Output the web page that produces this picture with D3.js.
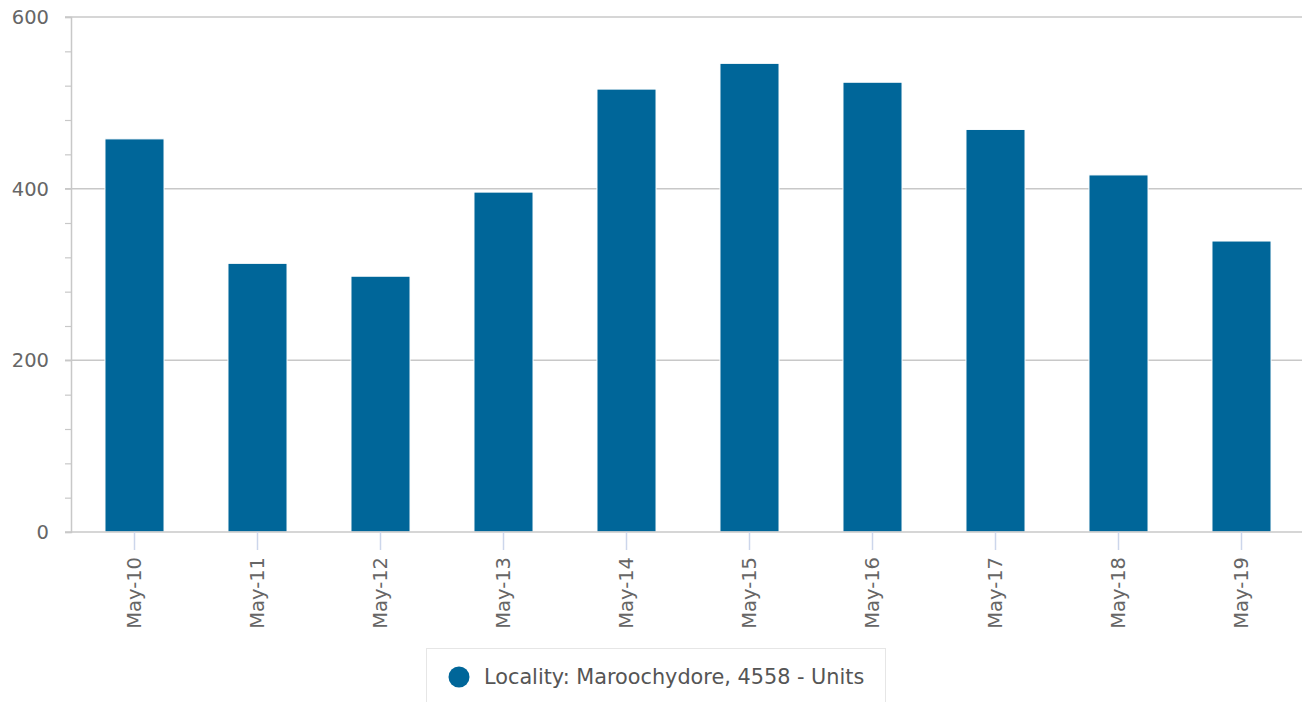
<!DOCTYPE html>
<html>
<head>
<meta charset="utf-8">
<script src="https://cdn.jsdelivr.net/npm/d3@7"></script>
<style>
  body { margin: 0; background: #fff; }
  svg { display: block; font-family: "DejaVu Sans", sans-serif; }
</style>
</head>
<body>
<div id="chart"></div>
<script>
// Maroochydore units
const categories = ["May-10", "May-11", "May-12", "May-13", "May-14", "May-15", "May-16", "May-17", "May-18", "May-19"];
const values = [458, 313, 298, 396, 516, 546, 524, 469, 416, 339];
const yTickLabels = [0, 200, 400, 600];
const seriesName = "Locality: Maroochydore, 4558 - Units";

const W = 1302, H = 702;
const margin = { top: 17, right: 0, bottom: 170, left: 71 };
const color = "#006699";

const svg = d3.select("#chart").append("svg")
    .attr("width", W)
    .attr("height", H);

const x = d3.scaleBand()
    .domain(categories)
    .range([margin.left + 2, W + 1])
    .paddingInner(0.52)
    .paddingOuter(0.26);

const y = d3.scaleLinear()
    .domain([0, 600])
    .range([H - margin.bottom, margin.top]);

// gridlines
svg.append("g")
    .selectAll("line")
    .data(yTickLabels.filter(d => d > 0))
    .join("line")
    .attr("x1", margin.left - 6)
    .attr("x2", W)
    .attr("y1", d => y(d))
    .attr("y2", d => y(d))
    .attr("stroke", "#c8c8c8")
    .attr("stroke-width", 1.5);

// y axis: minor ticks every 40, labels at 200s
const yAxis = svg.append("g")
    .attr("transform", `translate(${margin.left},0)`)
    .call(d3.axisLeft(y).tickValues(d3.range(0, 601, 40)).tickSize(6).tickFormat(""));
yAxis.select(".domain").attr("stroke", "#c8c8c8").attr("stroke-width", 1.5);
yAxis.selectAll(".tick line").attr("stroke", "#c8c8c8").attr("stroke-width", 1.2);

svg.append("g")
    .selectAll("text")
    .data(yTickLabels)
    .join("text")
    .attr("x", 49)
    .attr("y", d => y(d) + 7)
    .attr("text-anchor", "end")
    .attr("fill", "#666")
    .style("font-size", "19.5px")
    .text(d => d);

// bars
svg.append("g")
    .selectAll("rect")
    .data(values)
    .join("rect")
    .attr("x", (d, i) => x(categories[i]))
    .attr("y", d => y(d))
    .attr("width", x.bandwidth())
    .attr("height", d => y(0) - y(d))
    .attr("fill", color)
    .attr("stroke", "#fff")
    .attr("stroke-width", 1);

// x axis
const xAxis = svg.append("g")
    .attr("transform", `translate(0,${y(0)})`)
    .call(d3.axisBottom(x).tickSize(18));
xAxis.select(".domain").attr("stroke", "#c8c8c8").attr("stroke-width", 1.5)
    .attr("d", `M${margin.left - 6},0H${W}`);
xAxis.selectAll(".tick line").attr("stroke", "#ccd6eb").attr("stroke-width", 1.5);
xAxis.selectAll(".tick text")
    .attr("transform", "rotate(-90)")
    .attr("x", -25)
    .attr("y", 0)
    .attr("dy", "0.35em")
    .attr("text-anchor", "end")
    .attr("fill", "#666")
    .style("font-size", "19.5px")
    .style("font-family", "'DejaVu Sans', sans-serif");

// legend
const legend = svg.append("g");
legend.append("rect")
    .attr("x", 426.5)
    .attr("y", 648.5)
    .attr("width", 459)
    .attr("height", 60)
    .attr("fill", "#fff")
    .attr("stroke", "#e6e6e6");
legend.append("circle")
    .attr("cx", 459)
    .attr("cy", 677)
    .attr("r", 10.5)
    .attr("fill", color);
legend.append("text")
    .attr("x", 484)
    .attr("y", 684)
    .attr("fill", "#555")
    .style("font-size", "20.8px")
    .text(seriesName);
</script>
</body>
</html>
